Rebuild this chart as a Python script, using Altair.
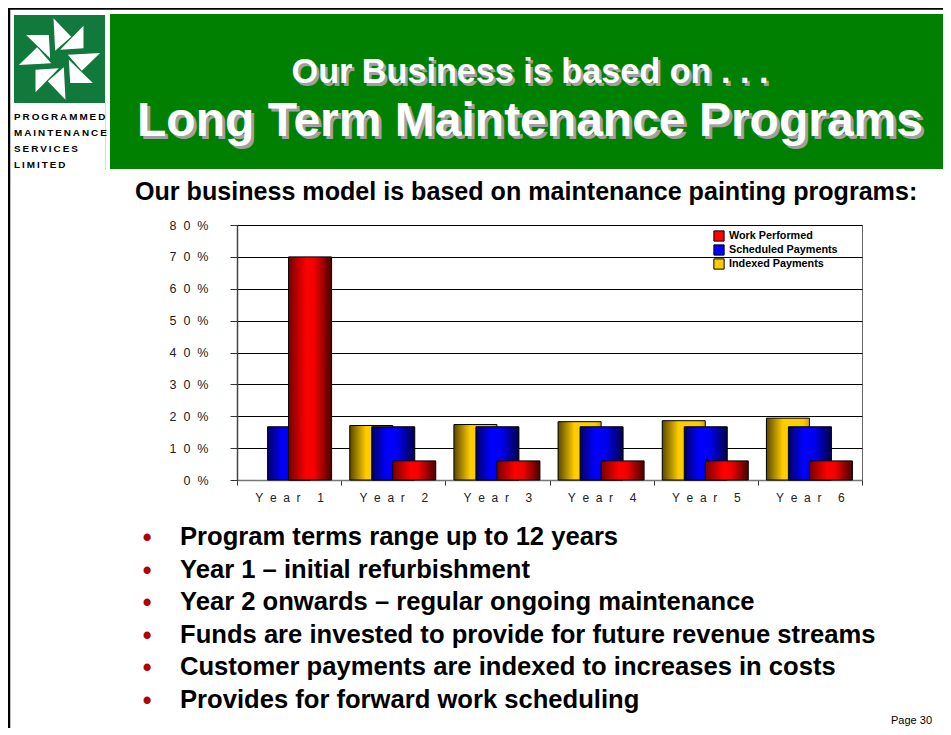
import altair as alt
import pandas as pd

# ---------------- data ----------------
years = ["Year 1", "Year 2", "Year 3", "Year 4", "Year 5", "Year 6"]
work_performed = [70, 6, 6, 6, 6, 6]
scheduled_payments = [16.7, 16.7, 16.7, 16.7, 16.7, 16.7]
indexed_payments = [None, 17.1, 17.4, 18.3, 18.6, 19.4]
series_names = ["Work Performed", "Scheduled Payments", "Indexed Payments"]
series_colors = ["#ff0000", "#0000ff", "#ffcc00"]
y_ticks = [0, 10, 20, 30, 40, 50, 60, 70, 80]

title_line1 = "Our Business is based on . . ."
title_line2 = "Long Term Maintenance Programs"
subtitle = "Our business model is based on maintenance painting programs:"
bullets = [
    "Program terms range up to 12 years",
    "Year 1 \u2013 initial refurbishment",
    "Year 2 onwards \u2013 regular ongoing maintenance",
    "Funds are invested to provide for future revenue streams",
    "Customer payments are indexed to increases in costs",
    "Provides for forward work scheduling",
]
logo_words = ["PROGRAMMED", "MAINTENANCE", "SERVICES", "LIMITED"]
page_label = "Page 30"

FONT = "Liberation Sans"
NB2 = "\u00a0\u00a0"

# ---------------- layout constants (page pixels) ----------------
X0, Y0 = 237, 225          # plot origin on the page
PW, PH = 625, 255          # plot size
SVG_W, SVG_H = 935, 720


def px(x):
    return x - X0


def py(y):
    return y - Y0


rows = []
for i, yr in enumerate(years):
    for name, vals in zip(series_names, [work_performed, scheduled_payments, indexed_payments]):
        if vals[i] is not None:
            rows.append({"year": yr, "series": name, "value": vals[i]})
df = pd.DataFrame(rows)


def grad(stops):
    return {
        "gradient": "linear", "x1": 0, "x2": 1, "y1": 0, "y2": 0,
        "stops": [{"offset": o, "color": c} for o, c in stops],
    }


red_grad = grad([(0, "#780000"), (0.42, "#ff0000"), (0.6, "#f20000"), (1, "#4a0000")])
blue_grad = grad([(0, "#000068"), (0.35, "#0000ff"), (0.6, "#0000f0"), (1, "#000048")])
gold_grad = grad([(0, "#5a4800"), (0.38, "#ffcc00"), (0.85, "#ffcc00"), (1, "#d8a800")])

x_enc = alt.X(
    "year:N", sort=years,
    scale=alt.Scale(paddingInner=0, paddingOuter=0),
    axis=alt.Axis(
        title=None, labelAngle=0, tickBand="extent", tickSize=5, tickColor="#333",
        domainColor="#777", domainWidth=1.5, labelFont=FONT, labelFontSize=12,
        labelColor="#222", labelPadding=7, labelBaseline="top",
        labelExpr=f"join(split(datum.label, ''), '{NB2}')",
    ),
)
y_enc = alt.Y(
    "value:Q",
    scale=alt.Scale(domain=[0, 80], nice=False),
    axis=alt.Axis(
        title=None, values=y_ticks, grid=True, gridColor="black", gridWidth=1,
        tickSize=7, tickColor="#333", domainColor="#444", domainWidth=1.5,
        labelFont=FONT, labelFontSize=12.5, labelColor="#222", labelPadding=22,
        labelOverlap=False,
        labelExpr=f"join(split(datum.value + '%', ''), '{NB2}')",
    ),
)


def bar_layer(name, fill, offset):
    return (
        alt.Chart(df)
        .transform_filter(alt.datum.series == name)
        .mark_bar(width=43, xOffset=offset, fill=fill, stroke="black", strokeWidth=1)
        .encode(x=x_enc, y=y_enc)
    )


gold_bars = bar_layer("Indexed Payments", gold_grad, -22)
blue_bars = bar_layer("Scheduled Payments", blue_grad, 0)
red_bars = bar_layer("Work Performed", red_grad, 21)

# zero-height bars that only carry the colour legend
legend_layer = (
    alt.Chart(df)
    .transform_calculate(value="0")
    .mark_bar(width=1)
    .encode(
        x=x_enc,
        y=y_enc,
        color=alt.Color(
            "series:N",
            scale=alt.Scale(domain=series_names, range=series_colors),
            legend=alt.Legend(
                title=None, orient="none", legendX=476, legendY=5,
                symbolType="square", symbolSize=105, symbolStrokeColor="black",
                symbolStrokeWidth=1, labelFont=FONT, labelFontSize=10.8,
                labelFontWeight="bold", labelColor="black", rowPadding=-2.6,
                labelOffset=4, padding=0,
            ),
        ),
    )
)


def one(text):
    return pd.DataFrame({"t": [text]})


def label(text, x, y, size, color="black", weight="bold", align="left"):
    return (
        alt.Chart(one(text))
        .mark_text(align=align, baseline="alphabetic", fontSize=size, fontWeight=weight,
                   color=color, font=FONT)
        .encode(x=alt.value(px(x)), y=alt.value(py(y)), text="t:N")
    )


def rect(x1, x2, y1, y2, color):
    return (
        alt.Chart(one(""))
        .mark_rect(color=color)
        .encode(x=alt.value(px(x1)), x2=alt.value(px(x2)), y=alt.value(py(y1)), y2=alt.value(py(y2)))
    )


def hline(x1, x2, y, w, color="black"):
    return alt.Chart(one("")).mark_rule(color=color, strokeWidth=w).encode(
        x=alt.value(px(x1)), x2=alt.value(px(x2)), y=alt.value(py(y)))


def vline(x, y1, y2, w, color="black"):
    return alt.Chart(one("")).mark_rule(color=color, strokeWidth=w).encode(
        x=alt.value(px(x)), y=alt.value(py(y1)), y2=alt.value(py(y2)))


# slide frame
frame = [hline(8, 943, 8.5, 2.5), vline(9, 8, 730, 2.5)]

# header + logo
header = rect(110, 943, 14, 169, "#008000")
logo_bg = rect(14, 105, 15, 103, "#10793b")
logo_edge = vline(105.5, 103, 170, 1, color="#f6cccc")

blade1 = [(-18, -122), (35, -67), (-13, -25)]
blade2 = [(2, -28), (72, -100), (72, -32)]
tris = []
for k in range(4):
    for tri in (blade1, blade2):
        pts = tri
        for _ in range(k):
            pts = [(-yy, xx) for xx, yy in pts]
        tris.append(pts)
path = " ".join(
    "M" + " L".join(f"{x / 125:.3f},{y / 125:.3f}" for x, y in t) + " Z" for t in tris
)
logo_mark = (
    alt.Chart(one(""))
    .mark_point(shape=path, size=6944, filled=True, color="white", opacity=1, strokeWidth=0)
    .encode(x=alt.value(px(59.5)), y=alt.value(py(59)))
)

logo_text = [
    label("\u2009".join(w), 14, 120 + 16 * i, 9.9, weight=900)
    for i, w in enumerate(logo_words)
]

titles = [
    label(title_line1, 532.5, 85.5, 34.2, color="#a0a0a0", align="center"),
    label(title_line1, 530, 83, 34.2, color="white", align="center"),
    label(title_line2, 533, 139, 48, color="#a0a0a0", align="center"),
    label(title_line2, 530, 136, 48, color="white", align="center"),
    label(subtitle, 135, 200, 25.1),
]

bullet_layers = []
for i, b in enumerate(bullets):
    yb = 545 + 32.6 * i
    bullet_layers.append(label("\u2022", 147, yb + 1, 25, color="#b00000", align="center"))
    bullet_layers.append(label(b, 180, yb, 25.6))

page_num = label(page_label, 932, 724, 11, weight="normal", align="right")

chart = (
    alt.layer(
        header, logo_bg, logo_mark, logo_edge, *logo_text, *frame, *titles,
        gold_bars, blue_bars, red_bars, legend_layer,
        *bullet_layers, page_num,
    )
    .properties(
        width=PW, height=PH,
        padding={"left": X0 - 8, "top": Y0 - 8, "right": SVG_W - (X0 - 8) - PW,
                 "bottom": SVG_H - (Y0 - 8) - PH},
        autosize=alt.AutoSizeParams(type="none"),
        background="white",
    )
    .configure_view(stroke="#666", strokeWidth=1)
)

chart.save("out.html", embed_options={"renderer": "svg", "actions": False})
